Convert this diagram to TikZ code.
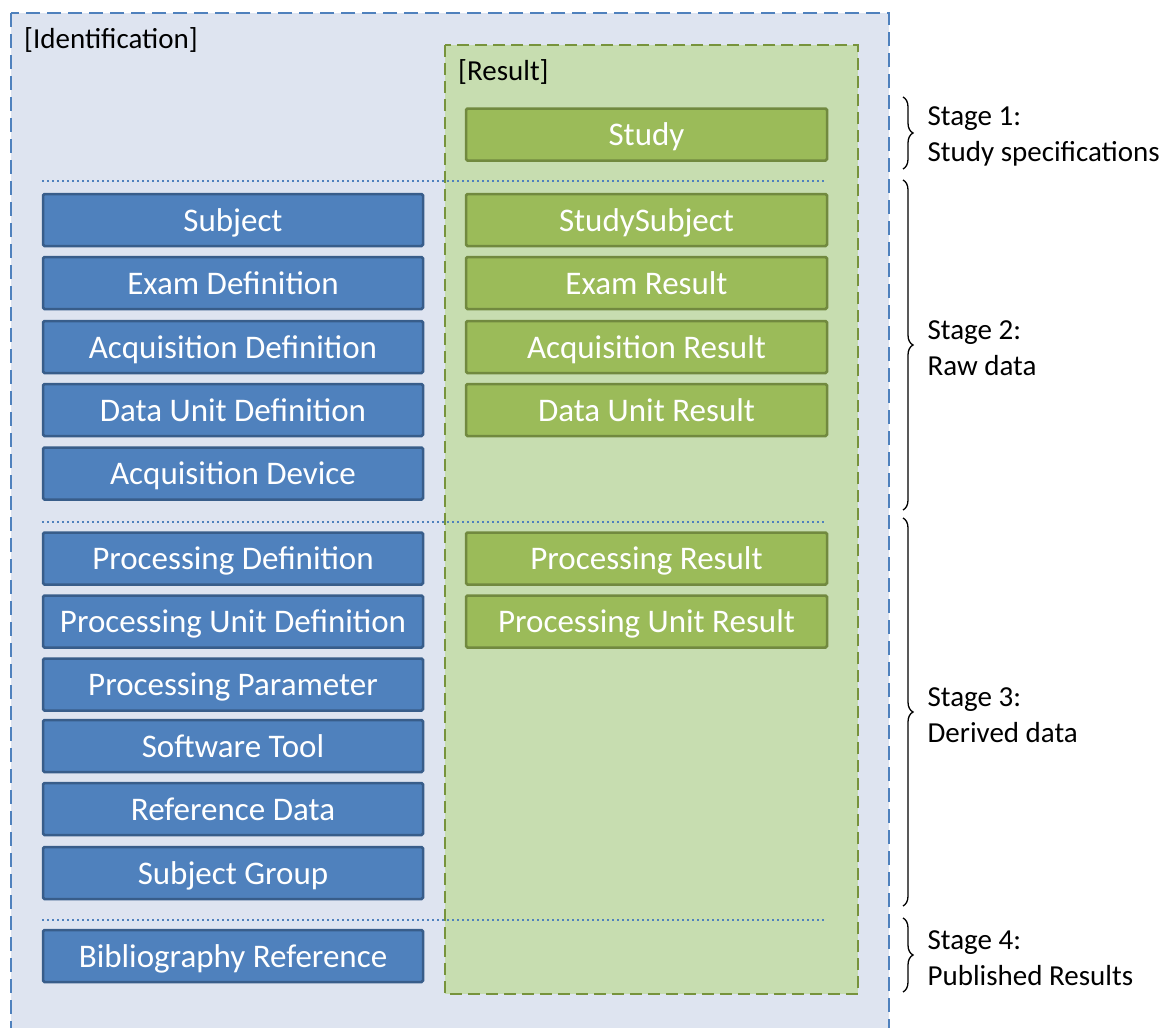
\documentclass[tikz,border=0pt]{standalone}
\usepackage{fontspec}
\setmainfont{Carlito}
\usepackage{tikz}
\usetikzlibrary{decorations.pathreplacing}
\usepackage{xcolor}
\definecolor{IdBlue}{RGB}{79,129,189}
\definecolor{IdBlueDark}{RGB}{56,93,138}
\definecolor{IdBack}{RGB}{222,228,240}
\definecolor{ResGreen}{RGB}{155,187,89}
\definecolor{ResGreenDark}{RGB}{113,137,63}
\definecolor{ResBack}{RGB}{199,221,176}
\definecolor{FrameGreen}{RGB}{119,147,60}
\tikzset{
  defbox/.style={draw=IdBlueDark,fill=IdBlue,line width=2.5pt,rounded corners=1.5pt,
    minimum width=380pt,minimum height=52pt,inner sep=0pt,text=white,
    text height=22pt,text depth=0pt,font=\fontsize{33}{40}\selectfont},
  resbox/.style={defbox,draw=ResGreenDark,fill=ResGreen,minimum width=361pt},
  framelbl/.style={anchor=west,inner sep=0pt,font=\fontsize{29}{35}\selectfont},
  stagebrace/.style={decorate,decoration={brace,amplitude=10pt},line width=1.3pt},
  stagelbl/.style={anchor=west,align=left,inner sep=0pt,xshift=24pt,yshift=-3pt,
    font=\fontsize{29}{36}\selectfont},
  sepline/.style={draw=IdBlue,line width=2pt,dash pattern=on 2pt off 3pt}
}
\begin{document}
\begin{tikzpicture}[x=1pt,y=-1pt]
  \useasboundingbox (0,0) rectangle (1168,1028);
  \clip (0,0) rectangle (1168,1028);
  % Identification frame
  \draw[draw=IdBlue,fill=IdBack,line width=2pt,dash pattern=on 14pt off 7pt]
    (11,13) rectangle (889,1050);
  \node[framelbl] (idlbl) at (24,40) {[Identification]};
  % Result frame
  \draw[draw=FrameGreen,fill=ResBack,line width=2pt,dash pattern=on 12pt off 6pt]
    (445,45) rectangle (858,994);
  \node[framelbl] (reslbl) at (458,72) {[Result]};
  % Definition boxes
  \foreach \nm/\y/\txt in {subj/220/Subject,examdef/283/Exam Definition,
      acqdef/347/Acquisition Definition,dudef/410/Data Unit Definition,
      acqdev/473.5/Acquisition Device,procdef/558.5/Processing Definition,
      pudef/621.5/Processing Unit Definition,procpar/684.5/Processing Parameter,
      swtool/746/Software Tool,refdata/809/Reference Data,
      subjgrp/873/Subject Group,biblio/956/Bibliography Reference}
    \node[defbox] (\nm) at (233,\y) {\txt};
  % Result boxes
  \foreach \nm/\y/\txt in {study/134.5/Study,studysubj/220/StudySubject,
      examres/283/Exam Result,acqres/347/Acquisition Result,
      dures/410/Data Unit Result,procres/558.5/Processing Result,
      pures/621.5/Processing Unit Result}
    \node[resbox] (\nm) at (646.5,\y) {\txt};
  % Stage separators
  \foreach \y in {181,522,920}
    \draw[sepline] (42,\y) -- (826,\y);
  % Stages
  \draw[stagebrace] (903,97) -- (903,169)
    node[midway,stagelbl] (stage1) {Stage 1:\\Study specifications};
  \draw[stagebrace] (903,180) -- (903,510)
    node[midway,stagelbl] (stage2) {Stage 2:\\Raw data};
  \draw[stagebrace] (903,518) -- (903,906)
    node[midway,stagelbl] (stage3) {Stage 3:\\Derived data};
  \draw[stagebrace] (903,918) -- (903,992)
    node[midway,stagelbl] (stage4) {Stage 4:\\Published Results};
\end{tikzpicture}
\end{document}
